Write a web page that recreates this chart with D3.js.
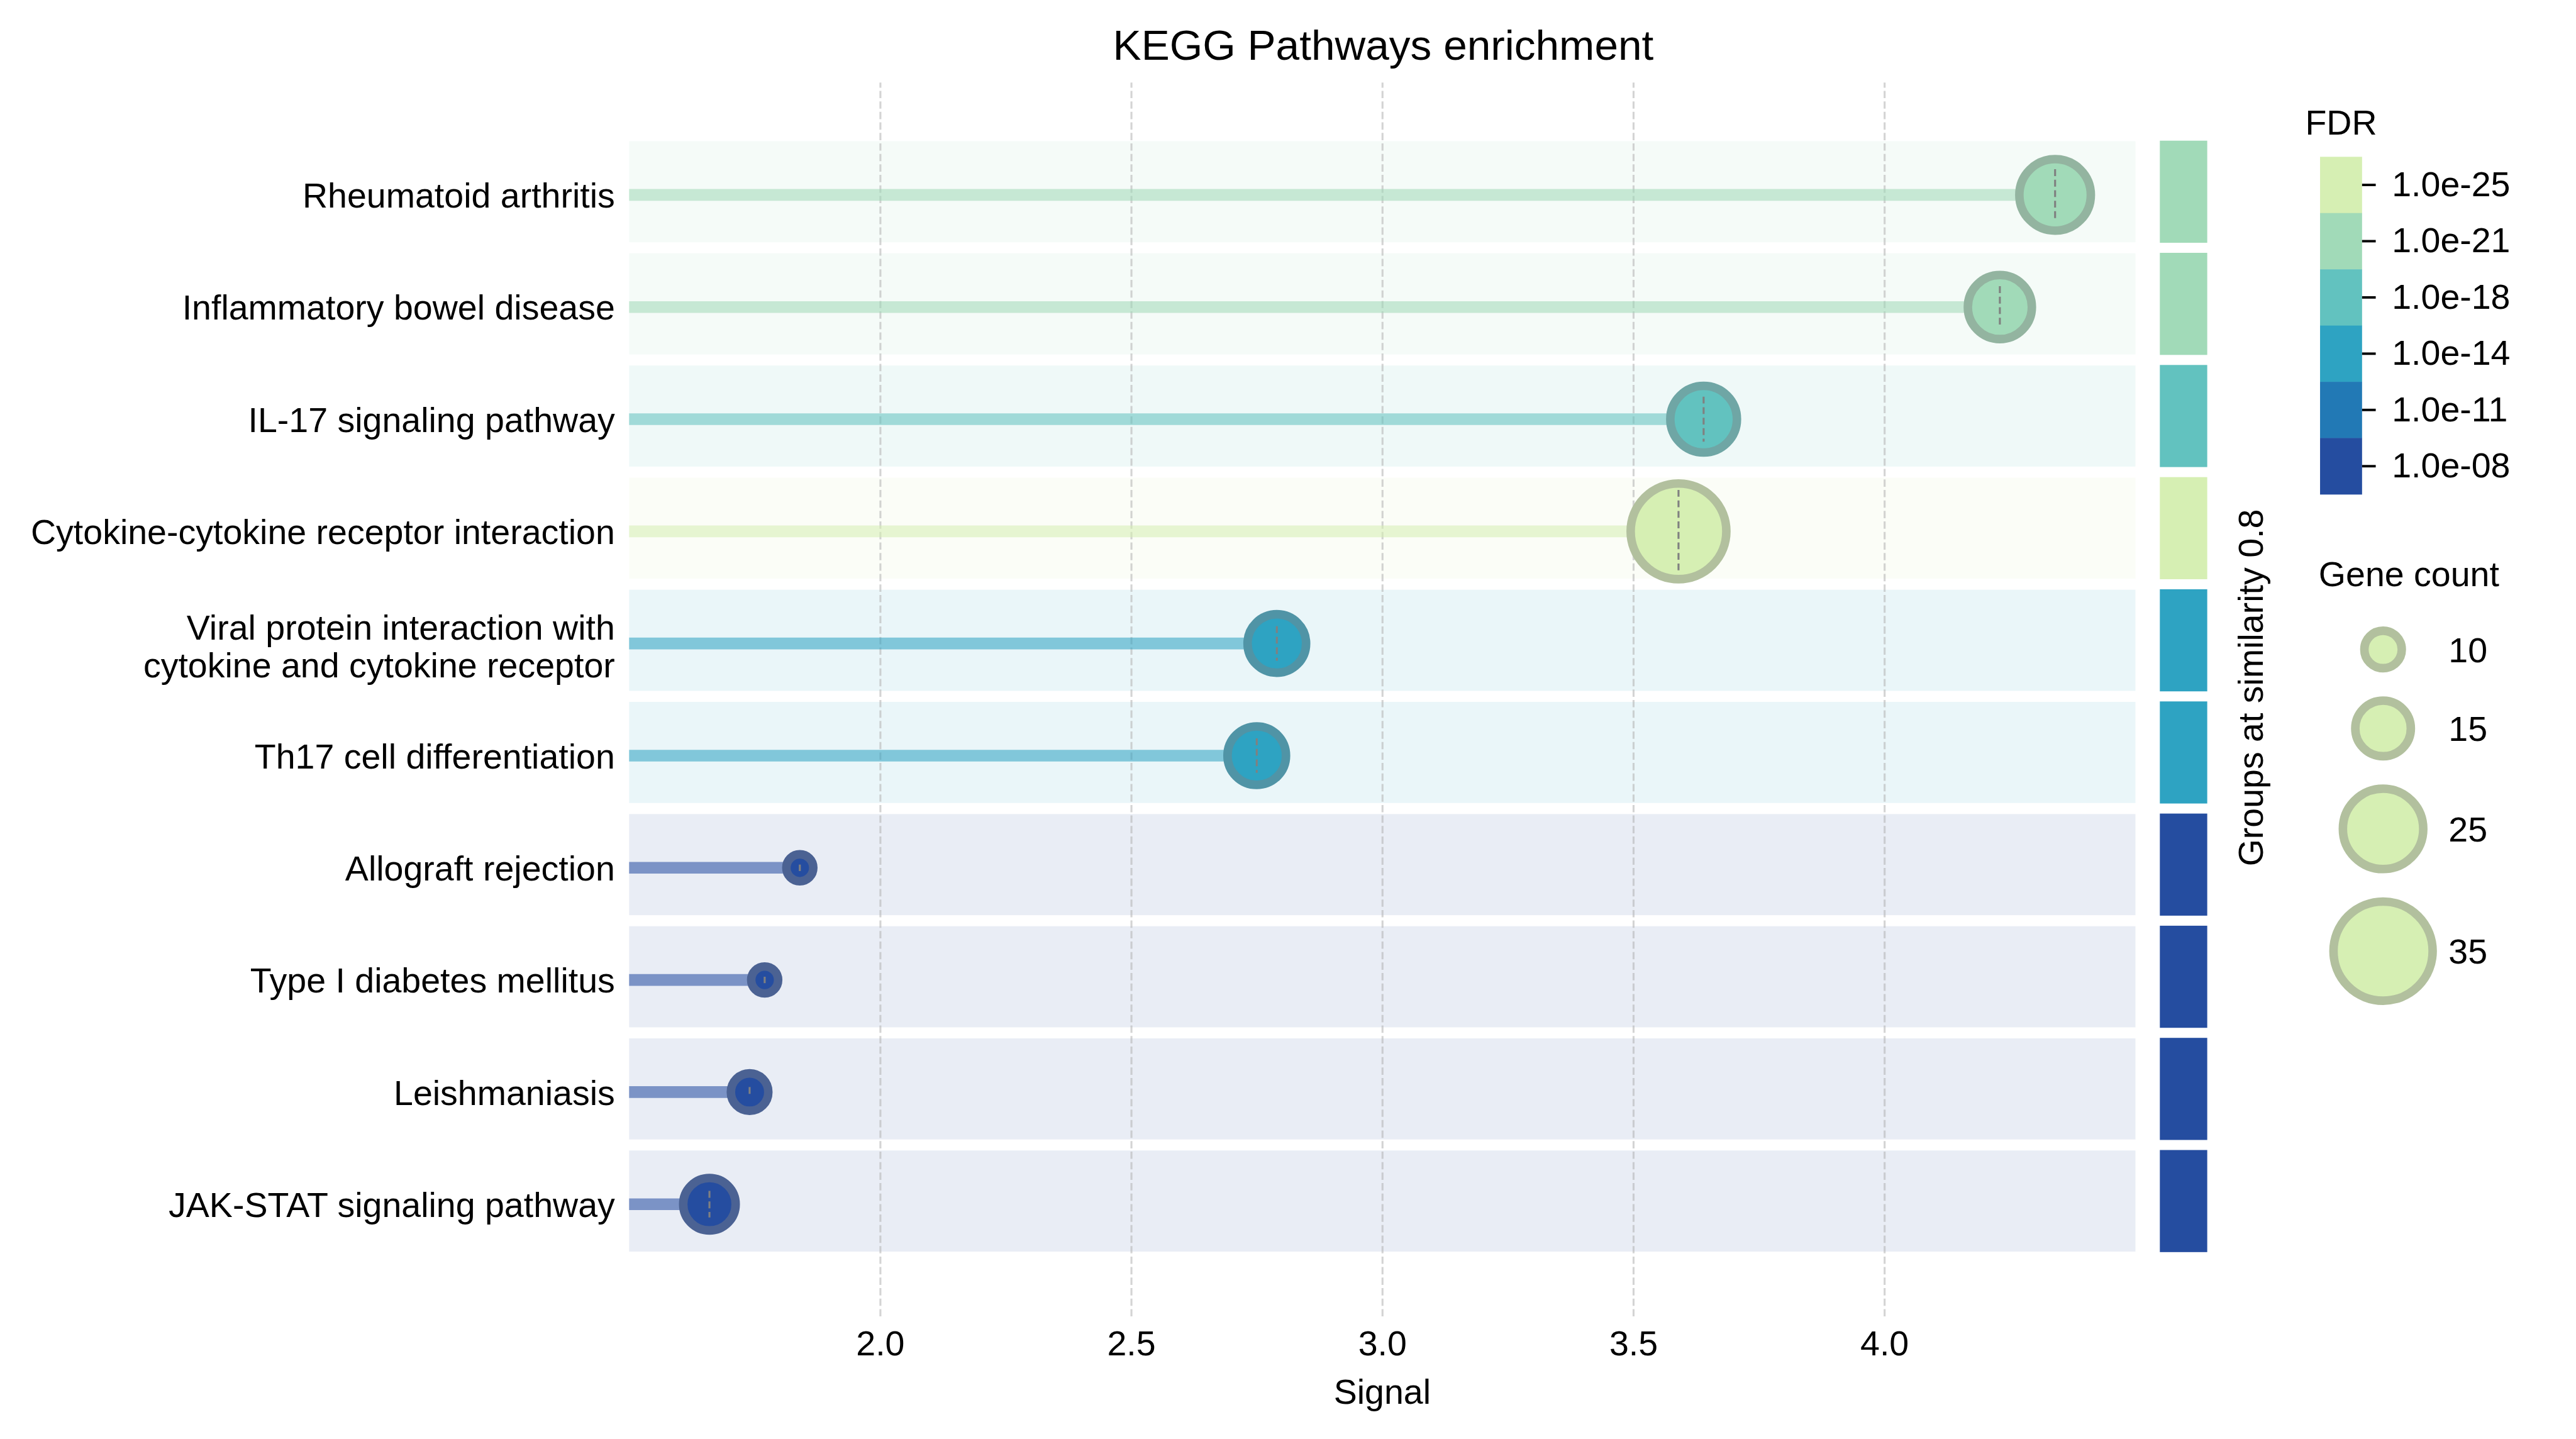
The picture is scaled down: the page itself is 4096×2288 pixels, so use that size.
<!DOCTYPE html>
<html>
<head>
<meta charset="utf-8">
<script src="https://cdn.jsdelivr.net/npm/d3@7/dist/d3.min.js"></script>
<style>
  html, body { margin: 0; padding: 0; background: #ffffff; }
  svg { display: block; }
  text { font-family: "Liberation Sans", Arial, "DejaVu Sans", sans-serif; fill: #000; }
</style>
</head>
<body>
<script>
// ---------------- data ----------------
const pathways = [
  "Rheumatoid arthritis",
  "Inflammatory bowel disease",
  "IL-17 signaling pathway",
  "Cytokine-cytokine receptor interaction",
  "Viral protein interaction with\ncytokine and cytokine receptor",
  "Th17 cell differentiation",
  "Allograft rejection",
  "Type I diabetes mellitus",
  "Leishmaniasis",
  "JAK-STAT signaling pathway"
];
const signal    = [4.34, 4.23, 3.64, 3.59, 2.79, 2.75, 1.84, 1.77, 1.74, 1.66];
const geneCount = [21, 18, 19, 33, 16, 16, 8, 8, 10, 14];
const fdrLog10  = [-21, -21, -18, -25, -14, -14, -8, -8, -8, -8];   // estimated log10(FDR)
const xTicks    = [2.0, 2.5, 3.0, 3.5, 4.0];
const fdrTickLabels = ["1.0e-25", "1.0e-21", "1.0e-18", "1.0e-14", "1.0e-11", "1.0e-08"];
const fdrTickExp    = [-25, -21, -18, -14, -11, -8];
const fdrColors     = ["#d6efb3", "#a1dab8", "#62c2bf", "#2ea3c2", "#2279b5", "#254da0"];
const legendCounts  = [10, 15, 25, 35];

// ---------------- layout (reference pixel space, scaled to window) ----------------
const W = 4096, H = 2288;
const REF_W = 5274;
const k = W / REF_W;
const FONT = 71.5, TITLE_FONT = 87;

const svg = d3.select("body").append("svg").attr("width", W).attr("height", H);
const root = svg.append("g").attr("transform", `scale(${k})`);

const x = d3.scaleLinear().domain([1.5, 4.5]).range([1288, 4372]);
const yBand = d3.scaleBand().domain(pathways).range([289, 2562.4]).paddingInner(0.0984).paddingOuter(0);
const yc = p => yBand(p) + 110;   // marker centre inside band

// colour by FDR (threshold at midpoints between colorbar ticks)
const thresholds = d3.pairs(fdrTickExp).map(([a, b]) => (a + b) / 2);
const color = d3.scaleThreshold().domain(thresholds).range(fdrColors);

// marker size: area linear in gene count
const rRef10 = 38.3, rRef35 = 101.5;
const area = d3.scaleLinear().domain([10, 35]).range([rRef10 * rRef10, rRef35 * rRef35]);
const radius = n => Math.sqrt(Math.max(area(n), 1));
const LW = 17.5;
const edgeOf = c => d3.interpolateRgb(c, "#808080")(0.42);

const rows = pathways.map((p, i) => ({
  name: p, signal: signal[i], count: geneCount[i], col: color(fdrLog10[i])
}));

// ---------------- row bands ----------------
root.append("g").selectAll("rect").data(rows).join("rect")
  .attr("x", x.range()[0]).attr("width", x.range()[1] - x.range()[0])
  .attr("y", d => yBand(d.name)).attr("height", yBand.bandwidth())
  .attr("fill", d => d.col).attr("fill-opacity", 0.1);

// ---------------- grid via axis ----------------
const gridTop = 169, gridBottom = 2695;
const gx = root.append("g").attr("transform", `translate(0,${gridBottom})`)
  .call(d3.axisBottom(x).tickValues(xTicks).tickFormat(d3.format(".1f"))
    .tickSize(-(gridBottom - gridTop)).tickPadding(29));
gx.select(".domain").remove();
gx.selectAll(".tick line")
  .attr("stroke", "#b0b0b0").attr("stroke-opacity", 0.55)
  .attr("stroke-width", 4).attr("stroke-dasharray", "15,6.5");
gx.selectAll(".tick text")
  .attr("font-size", FONT).attr("fill", "#000")
  .style("font-family", '"Liberation Sans", Arial, sans-serif');

// ---------------- stems ----------------
root.append("g").selectAll("line").data(rows).join("line")
  .attr("x1", x.range()[0]).attr("x2", d => x(d.signal))
  .attr("y1", d => yc(d.name)).attr("y2", d => yc(d.name))
  .attr("stroke", d => d.col).attr("stroke-opacity", 0.56)
  .attr("stroke-width", 24);

// ---------------- markers ----------------
const mk = root.append("g");
mk.selectAll("circle").data(rows).join("circle")
  .attr("cx", d => x(d.signal)).attr("cy", d => yc(d.name))
  .attr("r", d => radius(d.count))
  .attr("fill", d => d.col)
  .attr("stroke", d => edgeOf(d.col)).attr("stroke-width", LW);

const halfLen = d => {
  const rin = radius(d.count) - LW / 2;
  return Math.max(0.35 * rin, Math.min(rin, 1.3 * (rin - 24)));
};
mk.selectAll("line").data(rows).join("line")
  .attr("x1", d => x(d.signal)).attr("x2", d => x(d.signal))
  .attr("y1", d => yc(d.name) - halfLen(d)).attr("y2", d => yc(d.name) + halfLen(d))
  .attr("stroke", "#808080").attr("stroke-width", 4)
  .attr("stroke-dasharray", "14,7.5");

// ---------------- y labels ----------------
const yl = root.append("g");
rows.forEach(d => {
  const lines = d.name.split("\n");
  const c = yc(d.name);
  const t = yl.append("text").attr("text-anchor", "end").attr("font-size", FONT);
  if (lines.length === 1) {
    t.append("tspan").attr("x", 1259).attr("y", c + 26).text(lines[0]);
  } else {
    const lh = 77;
    lines.forEach((ln, j) => {
      t.append("tspan").attr("x", 1259)
        .attr("y", c + 30.5 - lh / 2 * (lines.length - 1) + j * lh).text(ln);
    });
  }
});

// ---------------- group bars ----------------
root.append("g").selectAll("rect").data(rows).join("rect")
  .attr("x", 4422).attr("width", 97)
  .attr("y", d => yBand(d.name) - 1).attr("height", yBand.bandwidth() + 2)
  .attr("fill", d => d.col);

root.append("text")
  .attr("transform", "translate(4633,1408) rotate(-90)")
  .attr("text-anchor", "middle").attr("font-size", FONT)
  .text("Groups at similarity 0.8");

// ---------------- titles ----------------
root.append("text").attr("x", 2832).attr("y", 122).attr("text-anchor", "middle")
  .attr("font-size", TITLE_FONT).text("KEGG Pathways enrichment");
root.append("text").attr("x", 2830).attr("y", 2874).attr("text-anchor", "middle")
  .attr("font-size", FONT).text("Signal");

// ---------------- FDR colorbar ----------------
const cbX = 4750, cbW = 86;
const cbScale = d3.scaleBand().domain(fdrTickLabels).range([321, 1012]);
root.append("g").selectAll("rect").data(fdrTickLabels).join("rect")
  .attr("x", cbX).attr("width", cbW)
  .attr("y", d => cbScale(d)).attr("height", cbScale.bandwidth() + 0.5)
  .attr("fill", (d, i) => fdrColors[i]);
const cbAxis = root.append("g").attr("transform", `translate(${cbX + cbW},0)`)
  .call(d3.axisRight(cbScale).tickSize(28).tickPadding(33));
cbAxis.select(".domain").remove();
cbAxis.selectAll(".tick line").attr("stroke", "#000").attr("stroke-width", 5);
cbAxis.selectAll(".tick text").attr("font-size", FONT).attr("fill", "#000")
  .style("font-family", '"Liberation Sans", Arial, sans-serif');
root.append("text").attr("x", cbX + cbW / 2).attr("y", 275).attr("text-anchor", "middle")
  .attr("font-size", FONT).text("FDR");

// ---------------- gene count legend ----------------
root.append("text").attr("x", 4932).attr("y", 1200).attr("text-anchor", "middle")
  .attr("font-size", FONT).text("Gene count");
const legX = 4879, legLabelX = 5013, legGap = 49;
let yCur = 1282.6;
const legItems = legendCounts.map(n => {
  const ro = radius(n) + LW / 2;
  const cy = yCur + ro;
  yCur = cy + ro + legGap;
  return { n, cy };
});
const lg = root.append("g");
lg.selectAll("circle").data(legItems).join("circle")
  .attr("cx", legX).attr("cy", d => d.cy).attr("r", d => radius(d.n))
  .attr("fill", fdrColors[0]).attr("stroke", edgeOf(fdrColors[0])).attr("stroke-width", LW);
lg.selectAll("text").data(legItems).join("text")
  .attr("x", legLabelX).attr("y", d => d.cy).attr("dy", "0.36em")
  .attr("font-size", FONT).text(d => d.n);
</script>
</body>
</html>
